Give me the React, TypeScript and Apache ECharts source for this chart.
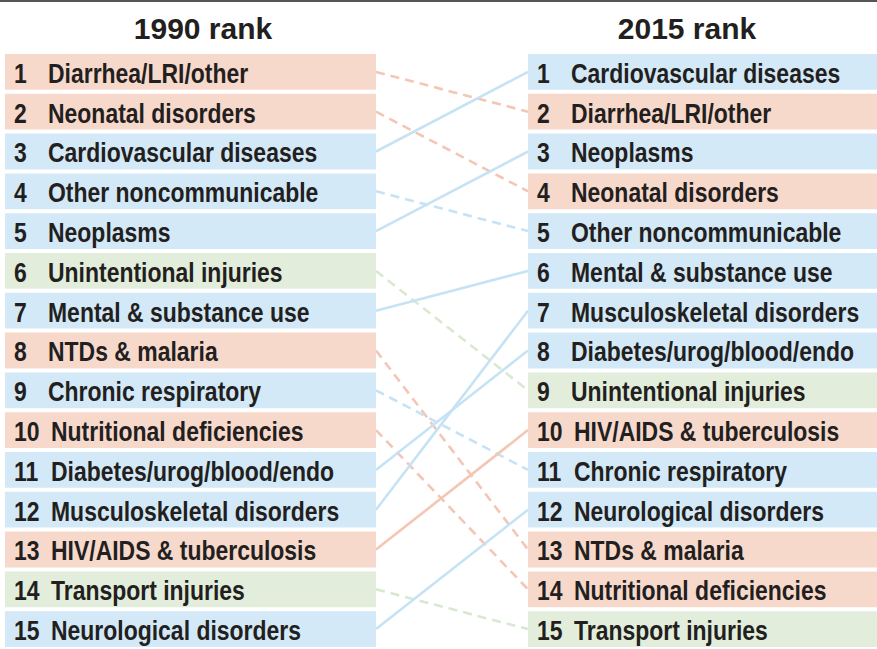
import React, { useEffect, useRef } from "react";
import * as echarts from "echarts";

const rankLabels = ["1","2","3","4","5","6","7","8","9","10","11","12","13","14","15"];
const causes1990 = [
  "Diarrhea/LRI/other","Neonatal disorders","Cardiovascular diseases","Other noncommunicable","Neoplasms",
  "Unintentional injuries","Mental & substance use","NTDs & malaria","Chronic respiratory","Nutritional deficiencies",
  "Diabetes/urog/blood/endo","Musculoskeletal disorders","HIV/AIDS & tuberculosis","Transport injuries","Neurological disorders",
];
const causes2015 = [
  "Cardiovascular diseases","Diarrhea/LRI/other","Neoplasms","Neonatal disorders","Other noncommunicable",
  "Mental & substance use","Musculoskeletal disorders","Diabetes/urog/blood/endo","Unintentional injuries","HIV/AIDS & tuberculosis",
  "Chronic respiratory","Neurological disorders","NTDs & malaria","Nutritional deficiencies","Transport injuries",
];
const communicable = ["Diarrhea/LRI/other","Neonatal disorders","NTDs & malaria","Nutritional deficiencies","HIV/AIDS & tuberculosis"];
const injuries = ["Unintentional injuries","Transport injuries"];
const columnTitles = ["1990 rank","2015 rank"];

const FILL: any = { comm: "#f7d9cc", ncd: "#d3e9f7", inj: "#e2eedb" };
const LINE: any = { comm: "#f4c6b4", ncd: "#c6e3f6", inj: "#d8e9d0" };
const groupOf = (c: string) => (communicable.includes(c) ? "comm" : injuries.includes(c) ? "inj" : "ncd");

const FONT = "'Liberation Sans',Arial,sans-serif";
const COLS = [
  { x0: 5, x1: 376 },
  { x0: 528, x1: 890 },
];
const SX = 0.82;

export default function App() {
  const ref = useRef<HTMLDivElement>(null);
  useEffect(() => {
    document.body.style.margin = "0";
    const chart = echarts.init(ref.current!, null, { renderer: "svg" });
    const boxData: any[] = [];
    const boxNames: string[] = [];
    causes1990.forEach((c, i) => { boxData.push([0, i]); boxNames.push(c); });
    causes2015.forEach((c, i) => { boxData.push([1, i]); boxNames.push(c); });

    const linesData = causes1990.map((c, i) => {
      const j = causes2015.indexOf(c);
      const g = groupOf(c);
      return {
        coords: [[COLS[0].x1, i], [COLS[1].x0, j]],
        lineStyle: { color: LINE[g], width: 2.6, opacity: 1, type: j > i ? [9, 6] : "solid" },
      };
    });

    chart.setOption({
      animation: false,
      grid: { left: 0, right: 0, top: 52, bottom: -3 },
      xAxis: { type: "value", min: 0, max: 877, show: false },
      yAxis: { type: "category", data: rankLabels, inverse: true, show: false },
      graphic: [
        { type: "line", shape: { x1: 0, y1: 1, x2: 877, y2: 1 }, style: { stroke: "#555", lineWidth: 2 } },
        { type: "text", x: 203, y: 28, style: { text: columnTitles[0], font: `bold 30px ${FONT}`, fill: "#231f20", align: "center", verticalAlign: "middle" } },
        { type: "text", x: 687, y: 28, style: { text: columnTitles[1], font: `bold 30px ${FONT}`, fill: "#231f20", align: "center", verticalAlign: "middle" } },
      ],
      series: [
        {
          type: "lines",
          coordinateSystem: "cartesian2d",
          data: linesData,
          z: 1,
        },
        {
          type: "custom",
          z: 2,
          encode: { x: 0, y: 1 },
          data: boxData,
          renderItem: (params: any, api: any) => {
            const col = api.value(0);
            const r = api.value(1);
            const name = boxNames[params.dataIndex];
            const g = groupOf(name);
            const p0 = api.coord([COLS[col].x0, r]);
            const p1 = api.coord([COLS[col].x1, r]);
            const band = api.size([0, 1])[1];
            const h = band - 4;
            const cy = p0[1] + 1;
            return {
              type: "group",
              children: [
                { type: "rect", shape: { x: p0[0], y: p0[1] - h / 2, width: p1[0] - p0[0], height: h }, style: { fill: FILL[g] } },
                { type: "text", x: p0[0] + 9, y: cy, scaleX: SX, style: { x: 0, y: 0, text: rankLabels[r], font: `bold 28px ${FONT}`, fill: "#231f20", verticalAlign: "middle" } },
                { type: "text", x: p0[0] + (r >= 9 ? 46 : 43), y: cy, scaleX: SX, style: { x: 0, y: 0, text: name, font: `bold 28px ${FONT}`, fill: "#231f20", verticalAlign: "middle" } },
              ],
            };
          },
        },
      ],
    });
    return () => chart.dispose();
  }, []);
  return <div ref={ref} style={{ width: 877, height: 649 }} />;
}
